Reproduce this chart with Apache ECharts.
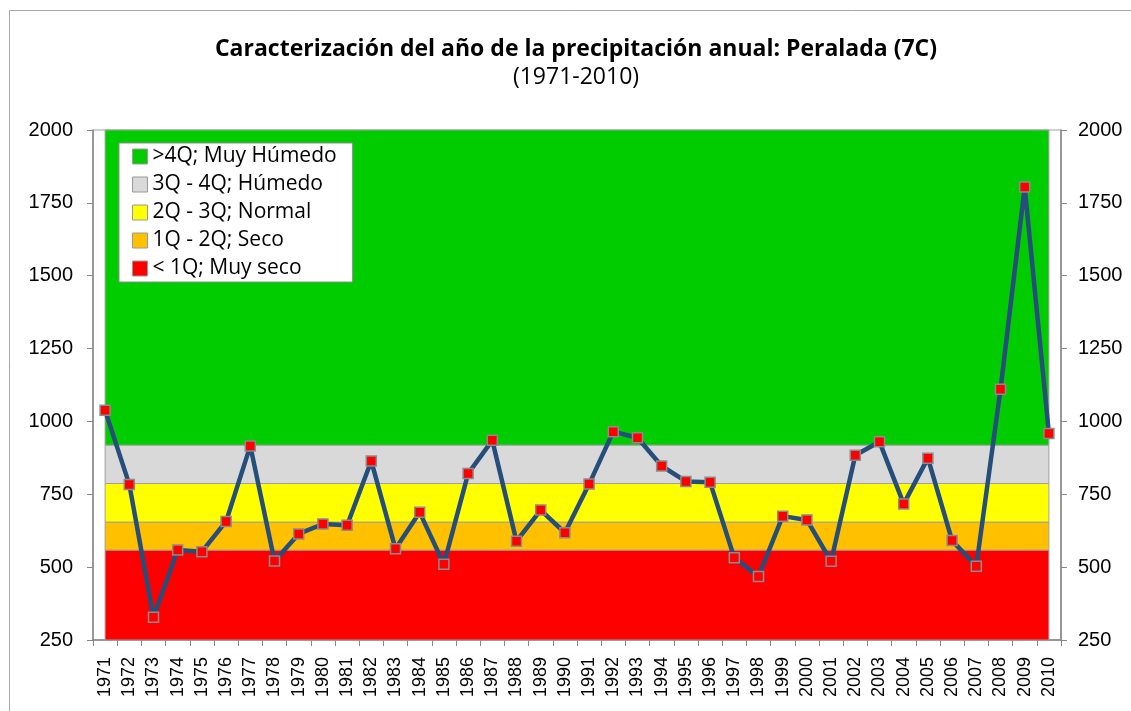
<!DOCTYPE html>
<html>
<head>
<meta charset="utf-8">
<script src="https://cdn.jsdelivr.net/npm/echarts@6/dist/echarts.min.js"></script>
<style>
html,body{margin:0;padding:0;background:#fff;}
#chart{width:1131px;height:711px;}
</style>
</head>
<body>
<div id="chart"></div>
<script>
// ---- data ----
const years = ['1971','1972','1973','1974','1975','1976','1977','1978','1979','1980',
  '1981','1982','1983','1984','1985','1986','1987','1988','1989','1990',
  '1991','1992','1993','1994','1995','1996','1997','1998','1999','2000',
  '2001','2002','2003','2004','2005','2006','2007','2008','2009','2010'];
const precip = [1038,784,328,559,553,657,916,521,614,648,
  644,864,563,688,510,821,935,589,696,618,
  785,965,944,847,794,791,532,468,675,662,
  520,884,930,717,874,591,503,1110,1804,959];
const bandNames = ['>4Q; Muy Húmedo','3Q - 4Q; Húmedo','2Q - 3Q; Normal','1Q - 2Q; Seco','< 1Q; Muy seco'];
const bandLower = [918, 787, 654, 558, 250];
const bandUpper = [2000, 918, 787, 654, 558];
const bandColors = ['#00CC00','#D9D9D9','#FFFF00','#FFC000','#FF0000'];
const yTicks = {min:250, max:2000, interval:250};
const titleText = 'Caracterización del año de la precipitación anual: Peralada (7C)';
const subtitleText = '(1971-2010)';

const chart = echarts.init(document.getElementById('chart'));

const bandSeries = bandNames.map((name, i) => ({
  name: name,
  type: 'line',
  data: [],
  z: 1,
  itemStyle: {color: bandColors[i]},
  lineStyle: {color: bandColors[i]},
  silent: true,
  markArea: {
    silent: true,
    itemStyle: {color: bandColors[i], borderColor: '#a0a0a0', borderWidth: 1},
    data: [[{xAxis: years[0], yAxis: bandLower[i]}, {xAxis: years[years.length-1], yAxis: bandUpper[i]}]]
  }
}));

const yLabel = {fontFamily: 'Liberation Sans', fontSize: 20, color: '#000', formatter: v => String(v)};

const option = {
  animation: false,
  backgroundColor: '#fff',
  graphic: [
    {type: 'rect', z: 0, shape: {x: 9.5, y: 10.5, width: 1200, height: 800},
     style: {fill: 'none', stroke: '#a6a6a6', lineWidth: 1}},
    {type: 'text', x: 576, y: 49, z: 10,
     style: {text: titleText, font: 'bold 23px "Open Sans"', fill: '#000', textAlign: 'center', textVerticalAlign: 'middle'}},
    {type: 'text', x: 576, y: 77, z: 10,
     style: {text: subtitleText, font: '23px "Open Sans"', fill: '#000', textAlign: 'center', textVerticalAlign: 'middle'}}
  ],
  grid: {left: 93, top: 130, width: 968, height: 510, show: true, borderColor: '#a0a0a0', borderWidth: 1, backgroundColor: 'transparent'},
  legend: {
    orient: 'vertical',
    left: 119, top: 143,
    backgroundColor: '#fff',
    borderColor: '#8c8c8c',
    borderWidth: 1,
    padding: [3, 16, 3, 13],
    itemWidth: 15, itemHeight: 15, itemGap: 7,
    icon: 'rect',
    selectedMode: false,
    textStyle: {fontFamily: 'Open Sans', fontSize: 21, lineHeight: 20, color: '#000'},
    data: bandNames.map((n, i) => ({name: n, itemStyle: {color: bandColors[i], borderColor: '#9a9a9a', borderWidth: 1}}))
  },
  xAxis: {
    type: 'category',
    data: years,
    boundaryGap: true,
    axisLine: {show: true, lineStyle: {color: '#868686', width: 1.5}},
    axisTick: {show: true, alignWithLabel: false, length: 6, lineStyle: {color: '#868686'}},
    axisLabel: {rotate: 90, interval: 0, margin: 17, fontFamily: 'Liberation Sans', fontSize: 18, color: '#000'},
    splitLine: {show: false}
  },
  yAxis: [
    {type: 'value', position: 'left', min: yTicks.min, max: yTicks.max, interval: yTicks.interval,
     axisLine: {show: true, lineStyle: {color: '#868686', width: 1.5}},
     axisTick: {show: true, length: 6, lineStyle: {color: '#868686'}},
     axisLabel: Object.assign({margin: 20}, yLabel),
     splitLine: {show: false}},
    {type: 'value', position: 'right', min: yTicks.min, max: yTicks.max, interval: yTicks.interval,
     axisLine: {show: true, lineStyle: {color: '#868686', width: 1.5}},
     axisTick: {show: true, length: 6, lineStyle: {color: '#868686'}},
     axisLabel: Object.assign({margin: 17}, yLabel),
     splitLine: {show: false}}
  ],
  series: bandSeries.concat([{
    name: 'Precipitación',
    type: 'line',
    data: precip,
    z: 5,
    symbol: 'rect',
    symbolSize: 10,
    showAllSymbol: true,
    lineStyle: {color: '#254E7B', width: 4.5},
    itemStyle: {color: '#FF0000', borderColor: '#8c8c8c', borderWidth: 1.5}
  }])
};
chart.setOption(option);
</script>
</body>
</html>
